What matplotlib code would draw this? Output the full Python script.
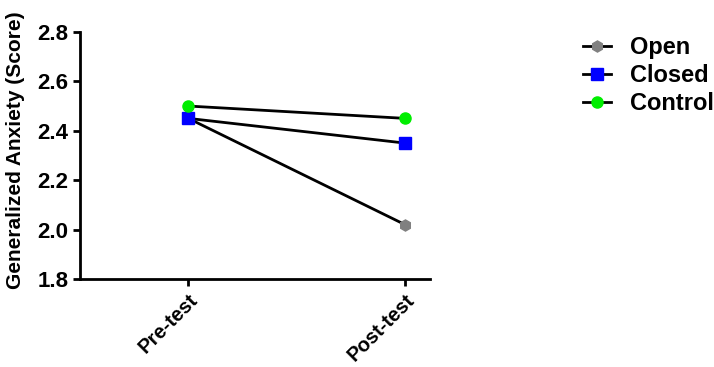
import matplotlib
matplotlib.use("Agg")
import matplotlib.pyplot as plt

plt.rcParams['font.family'] = ['Liberation Sans', 'DejaVu Sans']
plt.rcParams['font.weight'] = 'bold'

tests = ["Pre-test", "Post-test"]
open_scores = [2.45, 2.02]
closed_scores = [2.45, 2.35]
control_scores = [2.50, 2.45]

fig = plt.figure(figsize=(7.14, 3.67), dpi=100)
ax = fig.add_axes([0.112, 0.240, 0.490, 0.673])

x = range(len(tests))
ax.plot(x, open_scores, color="black", lw=2, marker="h", ms=8,
        mfc="#808080", mec="#808080", label="Open")
ax.plot(x, closed_scores, color="black", lw=2, marker="s", ms=8,
        mfc="#0000ff", mec="#0000ff", label="Closed")
ax.plot(x, control_scores, color="black", lw=2, marker="o", ms=8,
        mfc="#00ee00", mec="#00ee00", label="Control")

ax.set_xlim(-0.5, 1.115)
ax.set_ylim(1.8, 2.8)
ax.set_yticks([1.8, 2.0, 2.2, 2.4, 2.6, 2.8])
ax.set_xticks(list(x))
ax.set_xticklabels(tests, rotation=45, ha="right", rotation_mode="anchor",
                   fontsize=14.5, fontweight="bold")
for lab in ax.get_yticklabels():
    lab.set_fontsize(16)
    lab.set_fontweight("bold")
ax.set_ylabel("Generalized Anxiety (Score)", fontsize=15, fontweight="bold")
ax.yaxis.set_label_coords(-0.156, 0.52)

for s in ["top", "right"]:
    ax.spines[s].set_visible(False)
for s in ["left", "bottom"]:
    ax.spines[s].set_linewidth(2)
ax.tick_params(width=2, length=5, direction="out")

ax.legend(loc="upper left", bbox_to_anchor=(1.41, 1.02), frameon=False,
          prop={"size": 17, "weight": "bold"}, handlelength=1.2,
          handletextpad=0.8, labelspacing=0.2, borderaxespad=0)

fig.savefig("out.png", dpi=100)
